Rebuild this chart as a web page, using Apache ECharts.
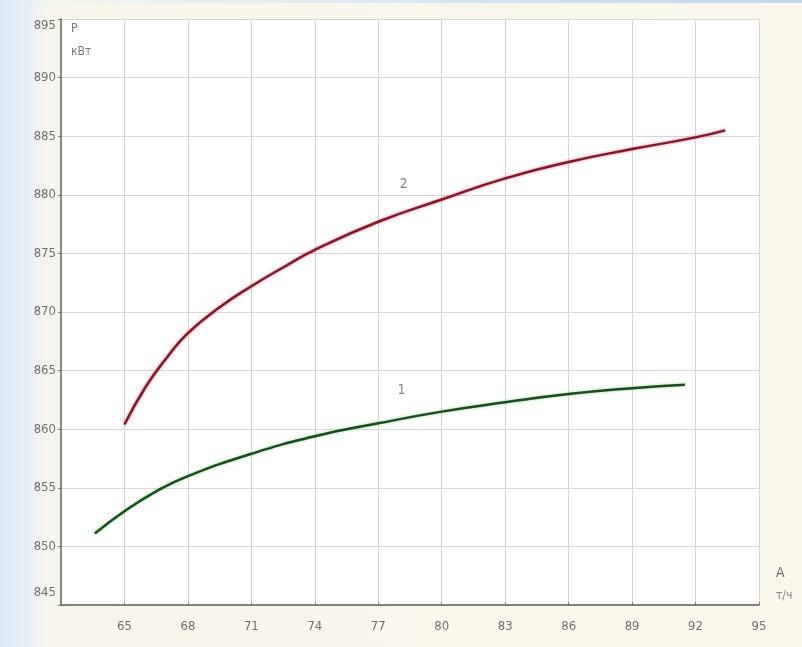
<!DOCTYPE html>
<html>
<head>
<meta charset="utf-8">
<script src="https://cdn.jsdelivr.net/npm/echarts@6/dist/echarts.min.js"></script>
<style>
  html, body { margin: 0; padding: 0; }
  body {
    width: 802px; height: 647px; overflow: hidden;
    background: linear-gradient(to right, #dde8f9 0px, #e8f0f8 28px, #f7f5ea 52px, #fbf8eb 100%);
  }
  #topstrip { position: absolute; left: 0; top: 0; width: 802px; height: 3px;
    background: linear-gradient(to right, rgba(200,225,245,0) 0px, #cfe3f5 500px, #bcd8f2 802px); }
  #chart { position: absolute; left: 0; top: 0; width: 802px; height: 647px; }
</style>
</head>
<body>
<div id="topstrip"></div>
<div id="chart"></div>
<script>
// ---- data ----
const xTicks = [65, 68, 71, 74, 77, 80, 83, 86, 89, 92, 95];
const yTicks = [845, 850, 855, 860, 865, 870, 875, 880, 885, 890, 895];

// curve 2 (red)
const curve2X = [65.0, 66.0, 67.0, 68.0, 69.5, 71.0, 72.5, 74.0, 77.0, 80.0, 83.0, 86.0, 89.0, 92.0, 93.4];
const curve2Y = [860.4, 863.6, 866.1, 868.2, 870.4, 872.2, 873.8, 875.3, 877.7, 879.6, 881.4, 882.8, 883.9, 884.9, 885.5];

// curve 1 (green)
const curve1X = [63.6, 65.0, 66.5, 68.0, 71.0, 74.0, 77.0, 80.0, 83.0, 86.0, 89.0, 91.5];
const curve1Y = [851.1, 853.0, 854.7, 856.0, 857.9, 859.4, 860.5, 861.5, 862.3, 863.0, 863.5, 863.8];

const curveLabels = ['1', '2'];
const curveLabelX = [78.1, 78.2];
const curveLabelY = [863.3, 880.9];

const yAxisTitle = ['P', 'кВт'];
const xAxisTitle = ['A', 'т/ч'];

const zip = (xs, ys) => xs.map((x, i) => [x, ys[i]]);

const chart = echarts.init(document.getElementById('chart'), null, { renderer: 'canvas' });
const labelFont = 'DejaVu Sans Condensed, Liberation Sans, sans-serif';

chart.setOption({
  backgroundColor: 'transparent',
  animation: false,
  grid: { left: 61, right: 43, top: 19, bottom: 42, show: true, backgroundColor: '#ffffff', borderWidth: 0 },
  xAxis: {
    type: 'value', min: 62, max: 95,
    axisLine: { show: true, onZero: false, lineStyle: { color: '#5f5f5f', width: 1.5 } },
    axisTick: { show: true, inside: true, length: 3, customValues: xTicks, lineStyle: { color: '#777' } },
    axisLabel: { customValues: xTicks, margin: 15, color: '#6f6f6f', fontSize: 13, fontFamily: labelFont },
    splitLine: { show: true, lineStyle: { color: '#d6d6d6', width: 1 } }
  },
  yAxis: {
    type: 'value', min: 845, max: 895, interval: 5,
    axisLine: { show: true, onZero: false, lineStyle: { color: '#5f5f5f', width: 1.5 } },
    axisTick: { show: true, inside: false, length: 3, lineStyle: { color: '#777' } },
    axisLabel: {
      margin: 5, color: '#6f6f6f', fontSize: 13, fontFamily: labelFont,
      formatter: v => v === yTicks[0] ? '{lo|' + v + '}' : (v === yTicks[yTicks.length - 1] ? '{hi|' + v + '}' : String(v)),
      rich: {
        lo: { padding: [0, 0, 24, 0], color: '#6f6f6f', fontSize: 13, fontFamily: labelFont },
        hi: { padding: [14, 0, 0, 0], color: '#6f6f6f', fontSize: 13, fontFamily: labelFont }
      }
    },
    splitLine: { show: true, lineStyle: { color: '#d6d6d6', width: 1 } }
  },
  series: [
    {
      name: '2', type: 'line', smooth: 0.5, symbol: 'none',
      data: zip(curve2X, curve2Y),
      lineStyle: { color: '#7d1a2c', width: 2.5, shadowColor: 'rgba(235,70,100,0.75)', shadowBlur: 3 }
    },
    {
      name: '1', type: 'line', smooth: 0.5, symbol: 'none',
      data: zip(curve1X, curve1Y),
      lineStyle: { color: '#1d4a22', width: 2.5, shadowColor: 'rgba(90,210,90,0.7)', shadowBlur: 3 }
    },
    {
      type: 'scatter', symbolSize: 0, silent: true,
      data: curveLabels.map((t, i) => ({ value: [curveLabelX[i], curveLabelY[i]], name: t })),
      label: { show: true, position: 'inside', formatter: p => p.name, color: '#666', fontSize: 14, fontFamily: labelFont }
    }
  ],
  graphic: [
    { type: 'text', left: 71, top: 23, style: { text: yAxisTitle[0], fill: '#7a7a7a', font: '12px ' + labelFont } },
    { type: 'text', left: 71, top: 46, style: { text: yAxisTitle[1], fill: '#7a7a7a', font: '12px ' + labelFont } },
    { type: 'text', left: 776, top: 566, style: { text: xAxisTitle[0], fill: '#6a6a6a', font: '14px ' + labelFont } },
    { type: 'text', left: 776, top: 590, style: { text: xAxisTitle[1], fill: '#8a8a8a', font: '12px ' + labelFont } }
  ]
});
</script>
</body>
</html>
